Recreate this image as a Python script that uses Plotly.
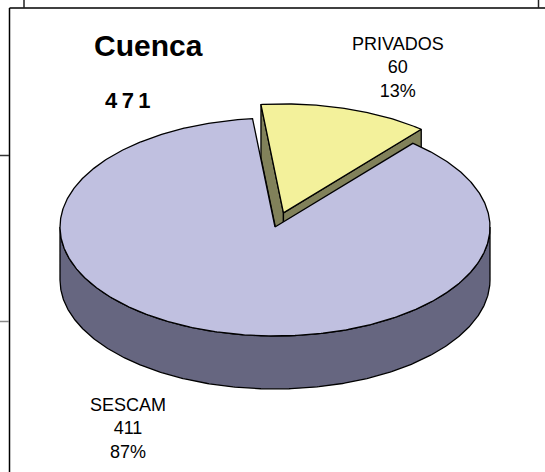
import numpy as np
import plotly.graph_objects as go

# ---- data ----
labels = ["PRIVADOS", "SESCAM"]
values = [60, 411]
title_text = "Cuenca"

top_colors = ["#F3F19B", "#C0C0E0"]
side_colors = ["#81815A", "#666680"]

# ---- layout / geometry parameters (pixels) ----
W, H = 545, 472
cx, cy, a, b, depth = 275, 227, 215, 109, 53
rotation = -6.0          # start angle of first slice (clockwise from 12 o'clock)
explode = [29, 0]         # explosion distance per slice

total = sum(values)


def pt(theta, off=(0.0, 0.0), dz=0.0):
    t = np.radians(theta)
    return cx + off[0] + a * np.sin(t), cy + off[1] - b * np.cos(t) + dz


def arc(t0, t1, off=(0.0, 0.0), dz=0.0, n=None):
    if n is None:
        n = max(2, int(abs(t1 - t0) * 2))
    ts = np.linspace(t0, t1, n)
    xs, ys = zip(*[pt(t, off, dz) for t in ts])
    return list(xs), list(ys)


fig = go.Figure()


def poly(xs, ys, fill):
    xs = list(xs) + [xs[0]]
    ys = list(ys) + [ys[0]]
    fig.add_trace(go.Scatter(x=xs, y=ys, mode="lines", fill="toself",
                             fillcolor=fill, line=dict(color="black", width=1.3),
                             hoverinfo="skip", showlegend=False))


# compute slices
slices = []
start = rotation
for lab, v, e, tc, sc in zip(labels, values, explode, top_colors, side_colors):
    span = 360.0 * v / total
    end = start + span
    mid = (start + end) / 2
    m = np.radians(mid)
    off = (e * np.sin(m), -e * (b / a) * np.cos(m))
    slices.append(dict(label=lab, value=v, start=start, end=end, off=off, top=tc, side=sc))
    start = end

# draw exploded slices first (they sit behind), then the rest
order = sorted(range(len(slices)), key=lambda i: -explode[i])
for i in order:
    s = slices[i]
    off = s["off"]
    apex = (cx + off[0], cy + off[1])
    ts, te = s["start"], s["end"]
    # radial walls
    if np.sin(np.radians(ts)) < 0:
        p = pt(ts, off)
        poly([apex[0], p[0], p[0], apex[0]], [apex[1], p[1], p[1] + depth, apex[1] + depth], s["side"])
    if np.sin(np.radians(te)) > 0:
        p = pt(te, off)
        poly([apex[0], p[0], p[0], apex[0]], [apex[1], p[1], p[1] + depth, apex[1] + depth], s["side"])
    # outer (front) wall
    lo, hi = max(ts, 90), min(te, 270)
    if hi > lo:
        x1, y1 = arc(lo, hi, off)
        x2, y2 = arc(hi, lo, off, depth)
        poly(x1 + x2, y1 + y2, s["side"])
    # top face
    xa, ya = arc(ts, te, off)
    poly([apex[0]] + xa, [apex[1]] + ya, s["top"])

# ---- text ----
annotations = []
label_pos = {"PRIVADOS": (398, 67), "SESCAM": (128, 428)}
for s in slices:
    pct = round(100 * s["value"] / total)
    x, y = label_pos[s["label"]]
    annotations.append(dict(x=x, y=y, xref="x", yref="y", showarrow=False,
                            text=f"{s['label']}<br>{s['value']}<br>{pct}%",
                            font=dict(family="Liberation Sans, Arial", size=18, color="black"),
                            xanchor="center", yanchor="middle", align="center"))
annotations.append(dict(x=148, y=45, xref="x", yref="y", showarrow=False,
                        text=f"<b>{title_text}</b>",
                        font=dict(family="Liberation Sans, Arial", size=30, color="black"),
                        xanchor="center", yanchor="middle"))
annotations.append(dict(x=128, y=100, xref="x", yref="y", showarrow=False,
                        text="<b>" + "\u2009".join(str(total)) + "</b>",
                        font=dict(family="Liberation Sans, Arial", size=22, color="black"),
                        xanchor="center", yanchor="middle"))

# ---- frame lines ----
shapes = [
    dict(type="line", x0=9.5, y0=8, x1=545, y1=8, line=dict(color="black", width=1.5)),
    dict(type="line", x0=9.5, y0=8, x1=9.5, y1=472, line=dict(color="black", width=1.5)),
    dict(type="line", x0=24, y0=0, x1=24, y1=8, line=dict(color="#222", width=1.5)),
    dict(type="line", x0=538.5, y0=0, x1=538.5, y1=8, line=dict(color="#222", width=1.5)),
    dict(type="line", x0=0, y0=155.5, x1=9, y1=155.5, line=dict(color="#333", width=1.5)),
    dict(type="line", x0=0, y0=321.5, x1=9, y1=321.5, line=dict(color="#888", width=1.5)),
]

fig.update_layout(
    width=W, height=H, margin=dict(l=0, r=0, t=0, b=0),
    paper_bgcolor="white", plot_bgcolor="white",
    xaxis=dict(range=[0, W], visible=False, fixedrange=True),
    yaxis=dict(range=[H, 0], visible=False, fixedrange=True),
    annotations=annotations, shapes=shapes, showlegend=False,
)

fig.write_html("out.html", config={"displayModeBar": False},
               post_script="document.body.style.margin='0';document.body.style.overflow='hidden';")
